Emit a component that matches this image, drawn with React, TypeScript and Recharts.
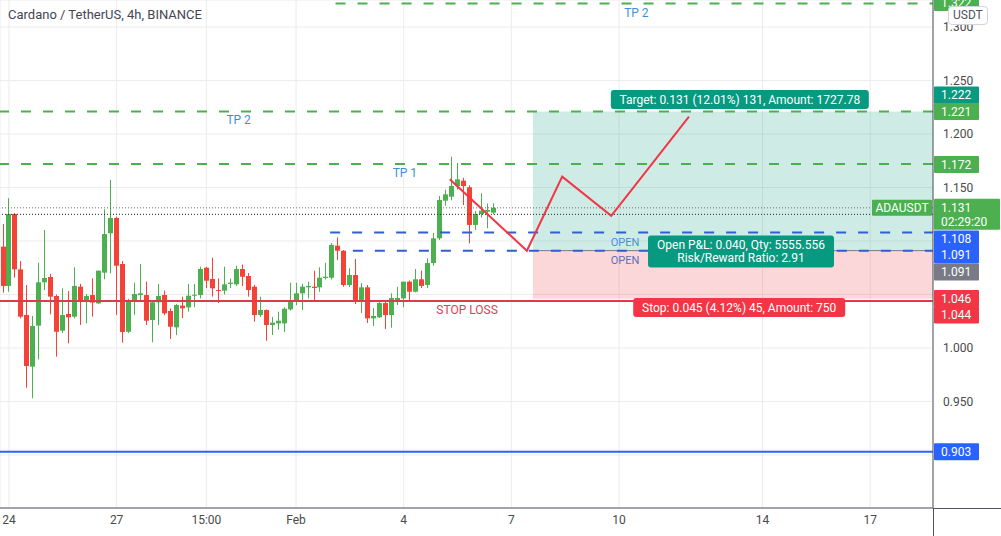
import React from 'react';
import {
  ComposedChart,
  Bar,
  Line,
  XAxis,
  YAxis,
  CartesianGrid,
  ReferenceLine,
  ReferenceArea,
  ReferenceDot,
} from 'recharts';

// 4h candles, Jan 23 20:00 -> Feb 6 12:00
const opens = [
  1.0947, 1.058, 1.1252, 1.0735, 1.0308, 0.9826, 1.0209, 1.0614, 1.0664, 1.0486,
  1.0162, 1.0318, 1.0293, 1.0573, 1.0433, 1.0495, 1.0417, 1.0704, 1.1072, 1.1215,
  1.0785, 1.0152, 1.0442, 1.0495, 1.0495, 1.0262, 1.0427, 1.0495, 1.0346, 1.0193,
  1.0396, 1.038, 1.049, 1.0495, 1.075, 1.0645, 1.0542, 1.0536, 1.0598, 1.0595,
  1.0738, 1.0673, 1.0573, 1.0308, 1.0355, 1.0215, 1.023, 1.023, 1.0361, 1.0433,
  1.0511, 1.0567, 1.0573, 1.0567, 1.0654, 1.0657, 1.0956, 1.0909, 1.0589, 1.0682,
  1.0449, 1.0567, 1.0277, 1.0287, 1.042, 1.0308, 1.0449, 1.0464, 1.062, 1.0526,
  1.0642, 1.0589, 1.0794, 1.1025, 1.1377, 1.1414, 1.1514, 1.1564, 1.1502, 1.115,
  1.1252, 1.1274, 1.1265,
];
const highs = [
  1.1159, 1.14, 1.126, 1.0813, 1.0589, 1.0299, 1.0797, 1.1103, 1.0692, 1.05,
  1.0558, 1.0533, 1.0754, 1.06, 1.0505, 1.0651, 1.0723, 1.1296, 1.157, 1.1227,
  1.0813, 1.046, 1.061, 1.0785, 1.062, 1.044, 1.0598, 1.0536, 1.037, 1.041,
  1.048, 1.0598, 1.0598, 1.076, 1.076, 1.0844, 1.0651, 1.076, 1.065, 1.077,
  1.078, 1.07, 1.059, 1.048, 1.036, 1.029, 1.034, 1.038, 1.061, 1.061,
  1.06, 1.062, 1.0723, 1.0754, 1.0797, 1.098, 1.1034, 1.0916, 1.0745, 1.0832,
  1.0607, 1.0589, 1.0374, 1.0449, 1.0449, 1.0511, 1.0573, 1.062, 1.063, 1.0738,
  1.0723, 1.0838, 1.1075, 1.142, 1.148, 1.1788, 1.1729, 1.159, 1.152, 1.128,
  1.1446, 1.135, 1.1352,
];
const lows = [
  1.0517, 1.0526, 1.0657, 1.0277, 0.9629, 0.953, 0.9894, 1.0542, 1.0315, 0.9919,
  1.014, 1.0044, 1.0278, 1.0215, 1.023, 1.0293, 1.0411, 1.0642, 1.0698, 1.0308,
  1.005, 1.014, 1.0308, 1.0433, 1.0215, 1.0053, 1.0215, 1.0308, 1.0084, 1.0121,
  1.028, 1.034, 1.038, 1.0464, 1.056, 1.048, 1.042, 1.05, 1.056, 1.058,
  1.058, 1.048, 1.0246, 1.029, 1.0068, 1.0121, 1.017, 1.015, 1.035, 1.04,
  1.0355, 1.0464, 1.0449, 1.0526, 1.064, 1.064, 1.0822, 1.0573, 1.057, 1.0411,
  1.0327, 1.0234, 1.0206, 1.028, 1.0178, 1.019, 1.0402, 1.038, 1.0449, 1.052,
  1.056, 1.056, 1.077, 1.101, 1.133, 1.138, 1.148, 1.1336, 1.0978, 1.1103,
  1.122, 1.1119, 1.125,
];
const closes = [
  1.058, 1.1252, 1.0735, 1.0293, 0.9832, 1.0206, 1.0614, 1.0654, 1.048, 1.0152,
  1.0308, 1.0287, 1.058, 1.0433, 1.0486, 1.0424, 1.0723, 1.1065, 1.1215, 1.0769,
  1.015, 1.0442, 1.0505, 1.0511, 1.0255, 1.0427, 1.0486, 1.0324, 1.0199, 1.0402,
  1.0371, 1.0489, 1.0498, 1.0738, 1.0629, 1.0558, 1.0536, 1.0595, 1.061, 1.0738,
  1.0666, 1.0542, 1.0308, 1.0355, 1.0215, 1.0237, 1.0255, 1.0367, 1.0433, 1.0511,
  1.0573, 1.058, 1.0561, 1.0657, 1.0666, 1.0963, 1.0909, 1.0589, 1.0682, 1.0449,
  1.0567, 1.0277, 1.0299, 1.042, 1.0308, 1.0467, 1.0467, 1.062, 1.0526, 1.0642,
  1.058, 1.0794, 1.1025, 1.1383, 1.1436, 1.1514, 1.1576, 1.1514, 1.115, 1.1252,
  1.1283, 1.129, 1.131,
];

const slotCount = 156;
const dayTicks = [1, 19, 34, 49, 67, 85, 103, 127, 145];
const dayLabels = ['24', '27', '15:00', 'Feb', '4', '7', '10', '14', '17'];
const priceTicks = [0.9, 0.95, 1.0, 1.05, 1.1, 1.15, 1.2, 1.25, 1.3];
const hiddenTicks = [0.9, 1.05, 1.1];

// projected path drawn on the chart
const pathX = [74.7, 87.6, 93.5, 101.7, 114.7];
const pathY = [1.1577, 1.0909, 1.1601, 1.1235, 1.2162];

// position tool
const entry = 1.091;
const target = 1.221;
const stop = 1.046;
const posStart = 88.6;

const GREEN = '#4caf50';
const TEAL = '#089981';
const RED = '#f23645';
const BLUE = '#2962ff';
const GRAY = '#787b86';
const UP = '#4caf50';
const DOWN = '#f44336';
const FONT = 'Roboto, "Open Sans", sans-serif';

const candles = Array.from({ length: slotCount }, (_, i) =>
  i < opens.length
    ? { i, o: opens[i], h: highs[i], l: lows[i], c: closes[i], range: [lows[i], highs[i]] }
    : { i, range: null }
);
const pathData = pathX.map((x, k) => ({ x, p: pathY[k] }));

const tags = [
  { price: 1.322, color: GREEN, shift: -1 },
  { price: 1.222, color: TEAL, shift: -15.5 },
  { price: 1.221, color: GREEN, shift: 0 },
  { price: 1.172, color: GREEN, shift: 0.5 },
  { price: 1.108, color: BLUE, shift: 6.6 },
  { price: 1.091, color: BLUE, shift: 4.4 },
  { price: 1.091, color: GRAY, shift: 21.4 },
  { price: 1.046, color: RED, shift: -0.3 },
  { price: 1.044, color: RED, shift: 14 },
  { price: 0.903, color: BLUE, shift: 0 },
];

const Candle = (props: any) => {
  const { x, y, width, height, payload } = props;
  if (!payload || payload.o == null || !isFinite(height)) return <g />;
  const { o, h, l, c } = payload;
  const color = c >= o ? UP : DOWN;
  const k = h > l ? height / (h - l) : 0;
  const yOf = (v: number) => y + (h - v) * k;
  const top = yOf(Math.max(o, c));
  const bot = yOf(Math.min(o, c));
  const cx = Math.round(x + width / 2) + 0.5;
  return (
    <g>
      <line x1={cx} x2={cx} y1={y} y2={y + height} stroke={color} strokeWidth={1} />
      <rect x={cx - 2.5} y={top} width={5} height={Math.max(1, bot - top)} fill={color} />
    </g>
  );
};

const priceTag = (text: string, color: string, shift: number) => (props: any) => {
  const vb = props.viewBox || {};
  const x = vb.x + vb.width + 1;
  const y = vb.y + shift;
  return (
    <g>
      <rect x={x} y={y - 8.5} width={45} height={17} rx={1} fill={color} />
      <text x={x + 7} y={y} dy="0.35em" fill="#fff" fontSize={12} fontFamily={FONT}>
        {text}
      </text>
    </g>
  );
};

const lastTag = (props: any) => {
  const vb = props.viewBox || {};
  const right = vb.x + vb.width;
  const y = vb.y;
  return (
    <g>
      <rect x={right - 61} y={y - 8} width={60} height={16} rx={1} fill={GREEN} />
      <text x={right - 31} y={y} dy="0.35em" textAnchor="middle" fill="#fff" fontSize={12} fontFamily={FONT}>
        ADAUSDT
      </text>
      <rect x={right + 1} y={y - 9} width={66} height={31} rx={1} fill={GREEN} />
      <text x={right + 8} y={y} dy="0.35em" fill="#fff" fontSize={12} fontFamily={FONT}>
        1.131
      </text>
      <text x={right + 8} y={y + 14} dy="0.35em" fill="#fff" fontSize={12} fontFamily={FONT}>
        02:29:20
      </text>
    </g>
  );
};

const note = (text: string, color: string, anchor: string = 'middle', size: number = 12) => (props: any) => {
  const vb = props.viewBox || {};
  return (
    <text x={vb.x} y={vb.y} dy="0.35em" textAnchor={anchor} fill={color} fontSize={size} fontFamily={FONT}>
      {text}
    </text>
  );
};

const box = (lines: string[], color: string, width: number) => (props: any) => {
  const vb = props.viewBox || {};
  const h = lines.length * 13 + 6;
  return (
    <g>
      <rect x={vb.x - width / 2} y={vb.y - h / 2} width={width} height={h} rx={3} fill={color} />
      {lines.map((t, k) => (
        <text
          key={k}
          x={vb.x}
          y={vb.y - ((lines.length - 1) * 13) / 2 + k * 13}
          dy="0.35em"
          textAnchor="middle"
          fill="#fff"
          fontSize={12}
          fontFamily={FONT}
        >
          {t}
        </text>
      ))}
    </g>
  );
};

const YTick = (props: any) => {
  const { x, y, payload } = props;
  if (hiddenTicks.some((v) => Math.abs(v - payload.value) < 1e-6)) return <g />;
  return (
    <text x={x} y={y} dy="0.35em" fill="#4a4a4a" fontSize={12} fontFamily={FONT}>
      {Number(payload.value).toFixed(3)}
    </text>
  );
};

export default function App() {
  return (
    <div
      style={{
        position: 'fixed',
        left: 0,
        top: 0,
        width: 1001,
        height: 536,
        background: '#fff',
        fontFamily: FONT,
      }}
    >
      <ComposedChart
        width={1001}
        height={536}
        data={candles}
        margin={{ top: 0, right: 0, bottom: 0, left: 0 }}
        barCategoryGap={0}
      >
        <CartesianGrid stroke="#ececec" />
        <XAxis
          dataKey="i"
          ticks={dayTicks}
          interval={0}
          tickFormatter={(v: number) => dayLabels[dayTicks.indexOf(v)] ?? ''}
          tick={{ fill: '#4a4a4a', fontSize: 12, fontFamily: FONT }}
          tickLine={false}
          tickMargin={1}
          axisLine={{ stroke: '#50535e' }}
          height={28}
        />
        <XAxis
          xAxisId="n"
          type="number"
          dataKey="x"
          domain={[-0.5, slotCount - 0.5]}
          allowDataOverflow
          hide
        />
        <YAxis
          orientation="right"
          width={68}
          domain={[0.8505, 1.3252]}
          allowDataOverflow
          ticks={priceTicks}
          interval={0}
          tick={<YTick />}
          tickLine={false}
          tickMargin={4}
          axisLine={{ stroke: '#50535e' }}
        />

        <ReferenceArea xAxisId="n" x1={posStart} x2={slotCount - 0.5} y1={entry} y2={target} fill={TEAL} fillOpacity={0.2} stroke="none" />
        <ReferenceArea xAxisId="n" x1={posStart} x2={slotCount - 0.5} y1={stop} y2={entry} fill={RED} fillOpacity={0.2} stroke="none" />

        <Bar dataKey="range" barSize={5} shape={Candle} isAnimationActive={false} />

        <ReferenceLine y={1.1249} stroke="#222" strokeDasharray="1 2" />
        <ReferenceLine y={1.131} stroke="#8a6474" strokeDasharray="1 2" label={lastTag} />

        <ReferenceLine
          xAxisId="n"
          segment={[{ x: posStart, y: entry }, { x: slotCount - 0.5, y: entry }]}
          stroke={GRAY}
          strokeWidth={1}
        />
        <ReferenceLine xAxisId="n" segment={[{ x: 55.6, y: 1.322 }, { x: slotCount - 0.5, y: 1.322 }]} stroke={GREEN} strokeWidth={2} strokeDasharray="10 12" />
        <ReferenceLine y={1.221} stroke={GREEN} strokeWidth={2} strokeDasharray="10 12" />
        <ReferenceLine y={1.172} stroke={GREEN} strokeWidth={2} strokeDasharray="10 12" />
        <ReferenceLine xAxisId="n" segment={[{ x: 54.7, y: 1.108 }, { x: slotCount - 0.5, y: 1.108 }]} stroke="#2f5fd0" strokeWidth={2} strokeDasharray="10 12" />
        <ReferenceLine xAxisId="n" segment={[{ x: 58.5, y: 1.091 }, { x: slotCount - 0.5, y: 1.091 }]} stroke="#2f5fd0" strokeWidth={2} strokeDasharray="10 12" />
        <ReferenceLine y={1.044} stroke="#e0394a" strokeWidth={2} />
        <ReferenceLine y={0.903} stroke={BLUE} strokeWidth={2} />

        <Line
          xAxisId="n"
          data={pathData}
          dataKey="p"
          stroke={RED}
          strokeWidth={2}
          dot={false}
          activeDot={false}
          isAnimationActive={false}
        />

        <ReferenceDot xAxisId="n" x={105.9} y={1.3131} r={0} stroke="none" fill="none" label={note('TP 2', '#3d8fdd')} />
        <ReferenceDot xAxisId="n" x={39.4} y={1.2131} r={0} stroke="none" fill="none" label={note('TP 2', '#3d8fdd')} />
        <ReferenceDot xAxisId="n" x={67.2} y={1.1635} r={0} stroke="none" fill="none" label={note('TP 1', '#3d8fdd')} />
        <ReferenceDot xAxisId="n" x={101.6} y={1.0991} r={0} stroke="none" fill="none" label={note('OPEN', '#4a8fdc', 'start', 11)} />
        <ReferenceDot xAxisId="n" x={101.6} y={1.0822} r={0} stroke="none" fill="none" label={note('OPEN', '#5a6fb8', 'start', 11)} />
        <ReferenceDot xAxisId="n" x={77.6} y={1.0355} r={0} stroke="none" fill="none" label={note('STOP LOSS', '#e0405a')} />

        <ReferenceDot
          xAxisId="n"
          x={123.2}
          y={1.2322}
          r={0}
          stroke="none"
          fill="none"
          label={box(['Target: 0.131 (12.01%) 131, Amount: 1727.78'], TEAL, 258)}
        />
        <ReferenceDot
          xAxisId="n"
          x={123.4}
          y={1.0902}
          r={0}
          stroke="none"
          fill="none"
          label={box(['Open P&L: 0.040, Qty: 5555.556', 'Risk/Reward Ratio: 2.91'], TEAL, 186)}
        />
        <ReferenceDot
          xAxisId="n"
          x={123.1}
          y={1.0378}
          r={0}
          stroke="none"
          fill="none"
          label={box(['Stop: 0.045 (4.12%) 45, Amount: 750'], RED, 212)}
        />

        {tags.map((t, k) => (
          <ReferenceLine
            key={k}
            y={t.price}
            stroke="none"
            label={priceTag(t.price.toFixed(3), t.color, t.shift)}
          />
        ))}
      </ComposedChart>

      <div style={{ position: 'absolute', left: 933, top: 508, width: 1, height: 28, background: '#50535e' }} />
      <div style={{ position: 'absolute', left: 933, top: 508, width: 68, height: 1, background: '#50535e' }} />
      <div
        style={{
          position: 'absolute',
          left: 8,
          top: 7,
          fontSize: 13,
          lineHeight: '16px',
          color: '#434651',
          whiteSpace: 'nowrap',
        }}
      >
        Cardano / TetherUS, 4h, BINANCE
      </div>
      <div
        style={{
          position: 'absolute',
          left: 948,
          top: 6,
          padding: '1px 4px',
          fontSize: 12,
          lineHeight: '15px',
          color: '#50535e',
          background: '#fff',
          border: '1px solid #d1d4dc',
          borderRadius: 4,
        }}
      >
        USDT
      </div>
    </div>
  );
}
